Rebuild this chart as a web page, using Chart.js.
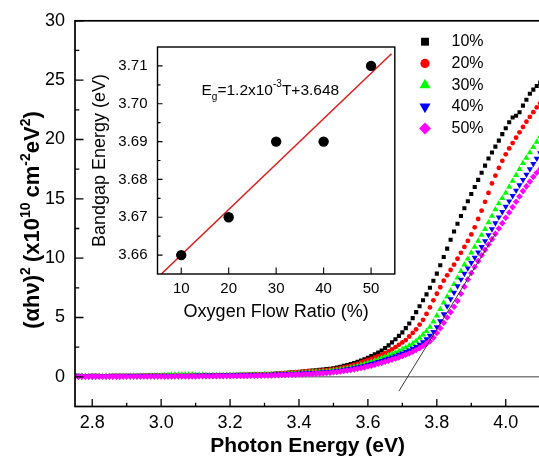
<!DOCTYPE html>
<html><head><meta charset="utf-8">
<script src="https://cdn.jsdelivr.net/npm/chart.js@4.4.0/dist/chart.umd.min.js"></script>
<style>
html,body{margin:0;padding:0;background:#fff;overflow:hidden;width:539px;height:459px;}
#main{position:absolute;left:0;top:0;}
#inset{position:absolute;left:85px;top:28px;}
</style></head><body>
<canvas id="main" width="560" height="459"></canvas>
<canvas id="inset" width="315" height="297"></canvas>
<script>
// ---------- main chart data ----------
const photonEnergy = [
 2.75,2.76,2.77,2.78,2.79,
 2.80,2.81,2.82,2.83,2.84,2.85,2.86,2.87,2.88,2.89,
 2.90,2.91,2.92,2.93,2.94,2.95,2.96,2.97,2.98,2.99,
 3.00,3.01,3.02,3.03,3.04,3.05,3.06,3.07,3.08,3.09,
 3.10,3.11,3.12,3.13,3.14,3.15,3.16,3.17,3.18,3.19,
 3.20,3.21,3.22,3.23,3.24,3.25,3.26,3.27,3.28,3.29,
 3.30,3.31,3.32,3.33,3.34,3.35,3.36,3.37,3.38,3.39,
 3.40,3.41,3.42,3.43,3.44,3.45,3.46,3.47,3.48,3.49,
 3.50,3.51,3.52,3.53,3.54,3.55,3.56,3.57,3.58,3.59,
 3.60,3.61,3.62,3.63,3.64,3.65,3.66,3.67,3.68,3.69,
 3.70,3.71,3.72,3.73,3.74,3.75,3.76,3.77,3.78,3.79,
 3.80,3.81,3.82,3.83,3.84,3.85,3.86,3.87,3.88,3.89,
 3.90,3.91,3.92,3.93,3.94,3.95,3.96,3.97,3.98,3.99,
 4.00,4.01,4.02,4.03,4.04,4.05,4.06,4.07,4.08,4.09,4.10
];
const series10 = [
 0.08,0.08,0.07,0.07,0.07,0.08,0.08,0.07,0.07,0.07,0.07,0.08,0.08,0.08,0.08,0.08,0.09,0.09,0.09,0.09,0.09,0.10,0.10,0.10,0.10,
 0.10,0.10,0.10,0.11,0.11,0.11,0.11,0.12,0.12,0.12,0.12,0.13,0.13,0.13,0.14,0.14,0.14,0.15,0.15,0.15,0.16,0.16,0.17,0.17,0.18,0.18,0.19,0.19,0.20,0.21,
 0.21,0.22,0.24,0.26,0.28,0.30,0.32,0.34,0.36,0.38,0.41,0.44,0.47,0.50,0.53,0.56,0.59,0.62,0.65,0.68,
 0.72,0.78,0.85,0.92,1.00,1.08,1.17,1.27,1.37,1.48,
 1.60,1.75,1.90,2.05,2.22,2.42,2.65,2.90,3.17,3.45,
 3.75,4.10,4.50,4.95,5.45,5.95,6.45,6.95,7.50,8.10,
 8.70,9.40,10.10,10.80,11.55,12.25,12.90,13.55,14.20,14.80,
 15.40,16.00,16.60,17.20,17.80,18.40,18.90,19.40,19.90,20.45,
 20.95,21.45,21.85,22.00,22.30,22.85,23.35,23.85,24.20,24.50,24.80
];
const series20 = [
 0.07,0.07,0.07,0.06,0.06,0.07,0.07,0.07,0.06,0.06,0.07,0.07,0.07,0.07,0.08,0.08,0.08,0.08,0.08,0.09,0.09,0.09,0.09,0.09,0.10,
 0.10,0.10,0.10,0.10,0.11,0.11,0.11,0.11,0.12,0.12,0.12,0.13,0.13,0.13,0.13,0.14,0.14,0.15,0.15,0.15,0.16,0.16,0.17,0.17,0.18,0.18,0.19,0.20,0.20,0.21,
 0.22,0.23,0.25,0.27,0.29,0.31,0.33,0.35,0.37,0.39,0.41,0.43,0.45,0.47,0.49,0.51,0.53,0.55,0.57,0.60,
 0.62,0.67,0.73,0.79,0.85,0.92,1.00,1.10,1.22,1.32,
 1.42,1.52,1.63,1.74,1.87,2.00,2.15,2.32,2.50,2.70,
 2.90,3.10,3.40,3.70,4.00,4.40,4.80,5.30,5.85,6.45,
 7.00,7.55,8.10,8.55,9.00,9.45,9.95,10.45,10.95,11.45,
 12.00,12.60,13.30,14.00,14.75,15.50,16.30,16.95,17.60,18.20,
 18.75,19.25,19.70,20.15,20.60,21.05,21.50,21.90,22.30,22.70,23.05
];
const series30 = [
 0.06,0.06,0.06,0.06,0.05,0.05,0.06,0.06,0.06,0.06,0.06,0.07,0.07,0.07,0.07,0.07,0.07,0.08,0.08,0.08,0.08,0.09,0.09,0.10,0.10,
 0.11,0.12,0.14,0.17,0.18,0.18,0.19,0.19,0.18,0.18,0.17,0.17,0.16,0.14,0.13,0.13,0.13,0.14,0.14,0.14,0.15,0.15,0.15,0.16,0.16,0.17,0.17,0.18,0.18,0.19,
 0.20,0.21,0.22,0.23,0.24,0.25,0.26,0.28,0.29,0.31,0.32,0.34,0.35,0.37,0.39,0.41,0.43,0.45,0.47,0.50,
 0.52,0.56,0.60,0.65,0.70,0.76,0.83,0.91,1.00,1.08,
 1.17,1.26,1.36,1.46,1.57,1.68,1.80,1.92,2.05,2.18,
 2.32,2.47,2.63,2.80,3.02,3.28,3.56,3.85,4.20,4.65,
 5.15,5.70,6.25,6.75,7.25,7.80,8.35,8.90,9.45,9.95,
 10.45,10.95,11.45,11.95,12.45,13.00,13.55,14.10,14.60,15.05,
 15.50,16.00,16.50,17.00,17.50,18.00,18.45,18.90,19.35,19.80,20.25
];
const series40 = [
 0.04,0.04,0.04,0.04,0.04,0.04,0.05,0.05,0.05,0.05,0.05,0.05,0.05,0.05,0.06,0.06,0.06,0.06,0.06,0.06,0.07,0.07,0.07,0.07,0.07,
 0.07,0.08,0.08,0.08,0.08,0.08,0.09,0.09,0.09,0.09,0.10,0.10,0.10,0.10,0.11,0.11,0.11,0.12,0.12,0.12,0.13,0.13,0.13,0.14,0.14,0.15,0.15,0.16,0.16,0.17,
 0.17,0.18,0.19,0.20,0.21,0.22,0.23,0.24,0.25,0.26,0.27,0.29,0.30,0.32,0.33,0.35,0.36,0.38,0.40,0.42,
 0.45,0.49,0.53,0.58,0.63,0.68,0.74,0.80,0.87,0.94,
 1.01,1.09,1.17,1.26,1.35,1.45,1.55,1.65,1.76,1.87,
 1.99,2.11,2.24,2.38,2.53,2.72,2.93,3.18,3.47,3.80,
 4.20,4.70,5.30,5.95,6.55,7.10,7.65,8.20,8.70,9.15,
 9.60,10.05,10.50,10.95,11.45,11.95,12.45,12.95,13.45,13.90,
 14.35,14.80,15.25,15.70,16.15,16.60,17.05,17.50,17.95,18.40,18.85
];
const series50 = [
 0.02,0.02,0.02,0.02,0.02,0.02,0.02,0.02,0.02,0.02,0.02,0.02,0.02,0.02,0.03,0.03,0.03,0.03,0.03,0.03,0.03,0.03,0.03,0.03,0.03,
 0.03,0.03,0.03,0.03,0.04,0.04,0.04,0.04,0.04,0.04,0.04,0.05,0.05,0.05,0.05,0.05,0.06,0.06,0.06,0.06,0.07,0.07,0.07,0.08,0.08,0.08,0.09,0.09,0.10,0.10,
 0.11,0.11,0.12,0.13,0.14,0.15,0.16,0.17,0.18,0.19,0.20,0.21,0.22,0.24,0.25,0.27,0.29,0.31,0.33,0.35,
 0.38,0.41,0.45,0.49,0.53,0.57,0.62,0.68,0.74,0.80,
 0.87,0.94,1.02,1.10,1.18,1.27,1.36,1.45,1.54,1.64,
 1.75,1.86,1.98,2.11,2.26,2.42,2.60,2.80,3.00,3.30,
 3.70,4.10,4.55,5.00,5.45,5.90,6.40,7.00,7.60,8.20,
 8.75,9.25,9.75,10.25,10.70,11.15,11.60,12.05,12.50,12.95,
 13.40,13.85,14.30,14.75,15.20,15.65,16.05,16.45,16.85,17.20,17.50
];
const seriesLabels = ['10%','20%','30%','40%','50%'];
const tangentX = [3.69, 3.97];
const tangentY = [-1.2, 12.05];
const baselineX = [2.75, 4.10];
const baselineY = [0, 0];
const xTickValues = [2.8,3.0,3.2,3.4,3.6,3.8,4.0];
const xTickLabels = ['2.8','3.0','3.2','3.4','3.6','3.8','4.0'];
const xMinorTicks = [2.9,3.1,3.3,3.5,3.7,3.9];
const yTickValues = [0,5,10,15,20,25,30];
const yTickLabels = ['0','5','10','15','20','25','30'];
const yMinorTicks = [2.5,7.5,12.5,17.5,22.5,27.5];

// ---------- inset data ----------
const oxygenRatio = [10,20,30,40,50];
const bandgapEnergy = [3.66,3.67,3.69,3.69,3.71];
const fitT = [5.8, 54.3];
const fitE = [3.655, 3.7132];
const insetXTicks = [10,20,30,40,50];
const insetXLabels = ['10','20','30','40','50'];
const insetYTicks = [3.66,3.67,3.68,3.69,3.70,3.71];
const insetYLabels = ['3.66','3.67','3.68','3.69','3.70','3.71'];
const insetYMinor = [3.665,3.675,3.685,3.695,3.705];

// ---------- styling ----------
const FONT = "'Liberation Sans', Arial, Helvetica, sans-serif";
Chart.defaults.font.family = FONT;
Chart.defaults.color = '#000';

const seriesStyles = [
  {ps:'rect', r:2.9, rot:0, c:'#000000', lr:5.6},
  {ps:'circle', r:2.4, rot:0, c:'#ff0000', lr:4.6},
  {ps:'triangle', r:3.6, rot:0, c:'#00ff00', lr:6.4},
  {ps:'triangle', r:3.6, rot:180, c:'#0000ff', lr:6.4},
  {ps:'rectRot', r:3.3, rot:0, c:'#ff00ff', lr:6.0}
];
const allSeries = [series10, series20, series30, series40, series50];

const pts = (xs, ys) => xs.map((x,i)=>({x:x, y:ys[i]}));

const datasets = [];
datasets.push({label:'zero', data:pts(baselineX, baselineY), showLine:true, borderColor:'#444', borderWidth:1, pointRadius:0, order:20});
allSeries.forEach((s,k)=>{
  const st = seriesStyles[k];
  datasets.push({label:seriesLabels[k], data:pts(photonEnergy, s), showLine:false,
    pointStyle:st.ps, pointRadius:st.r, pointRotation:st.rot, pointBackgroundColor:st.c,
    pointBorderWidth:0, pointBorderColor:st.c, pointHoverRadius:st.r, order:10-k});
});
datasets.push({label:'tangent', data:pts(tangentX, tangentY), showLine:true, borderColor:'#222', borderWidth:0.9, pointRadius:0, order:0});

function drawPt(ctx, style, r, rot, x, y, color){
  ctx.fillStyle = color;
  Chart.helpers.drawPoint(ctx, {pointStyle:style, radius:r, rotation:rot, borderWidth:0}, x, y);
}

function drawRich(ctx, segs, baseSize, x, y, bold){
  let cx = x;
  segs.forEach(s=>{
    const size = s.k ? s.size : baseSize;
    ctx.font = (bold?'bold ':'') + size + 'px ' + FONT;
    ctx.fillText(s.t, cx, y + (s.dy||0));
    cx += ctx.measureText(s.t).width + (s.gap||0);
  });
  return cx - x;
}
function measureRich(ctx, segs, baseSize, bold){
  let w = 0;
  segs.forEach(s=>{
    const size = s.k ? s.size : baseSize;
    ctx.font = (bold?'bold ':'') + size + 'px ' + FONT;
    w += ctx.measureText(s.t).width + (s.gap||0);
  });
  return w;
}

const mainDecor = {
  id:'mainDecor',
  afterDraw(chart){
    const {ctx, chartArea:a, scales:{x, y}} = chart;
    ctx.save();
    ctx.strokeStyle = '#000';
    ctx.lineWidth = 1.7;
    ctx.strokeRect(a.left, a.top, a.right - a.left, a.bottom - a.top);
    ctx.lineWidth = 1.3;
    ctx.beginPath();
    xTickValues.forEach(v=>{const p=x.getPixelForValue(v); ctx.moveTo(p,a.bottom); ctx.lineTo(p,a.bottom-7.5);});
    xMinorTicks.forEach(v=>{const p=x.getPixelForValue(v); ctx.moveTo(p,a.bottom); ctx.lineTo(p,a.bottom-3.8);});
    yTickValues.forEach(v=>{const p=y.getPixelForValue(v); ctx.moveTo(a.left,p); ctx.lineTo(a.left+8.5,p);});
    yMinorTicks.forEach(v=>{const p=y.getPixelForValue(v); ctx.moveTo(a.left,p); ctx.lineTo(a.left+4.3,p);});
    ctx.stroke();

    const segs = [
      {t:'(\u03b1h\u03bd)'},
      {t:'2', k:1, size:14, dy:-9, gap:5},
      {t:'(x10'},
      {t:'10', k:1, size:14, dy:-9, gap:5},
      {t:'cm'},
      {t:'-2', k:1, size:14, dy:-9},
      {t:'eV'},
      {t:'2', k:1, size:14, dy:-9},
      {t:')'}
    ];
    ctx.fillStyle = '#000';
    ctx.textBaseline = 'alphabetic';
    ctx.textAlign = 'left';
    ctx.translate(39, 220);
    ctx.rotate(-Math.PI/2);
    const w = measureRich(ctx, segs, 22, true);
    drawRich(ctx, segs, 22, -w/2, 0, true);
    ctx.restore();

    ctx.save();
    ctx.textBaseline = 'middle';
    ctx.textAlign = 'left';
    ctx.font = '16px ' + FONT;
    const rowY = [41.7, 63.4, 85.1, 106.8, 128.5];
    seriesStyles.forEach((st,k)=>{
      drawPt(ctx, st.ps, st.lr, st.rot, 425, rowY[k], st.c);
      ctx.fillStyle = '#000';
      ctx.fillText(seriesLabels[k], 451.5, rowY[k]);
    });
    ctx.restore();
  }
};

new Chart(document.getElementById('main'), {
  type:'scatter',
  data:{datasets:datasets},
  options:{
    responsive:false, animation:false, devicePixelRatio:1,
    layout:{padding:{left:0, right:19.8, top:20, bottom:0}},
    plugins:{legend:{display:false}, tooltip:{enabled:false}},
    events:[],
    scales:{
      x:{type:'linear', min:2.75, max:4.10,
        afterBuildTicks:(s)=>{ s.ticks = xTickValues.map(v=>({value:v})); },
        afterFit:(s)=>{ s.height = 52.5; },
        grid:{display:false, drawTicks:false}, border:{display:false},
        ticks:{autoSkip:false, maxRotation:0, padding:6, font:{size:18}, color:'#000', callback:(v,i)=>xTickLabels[i]},
        title:{display:true, text:'Photon Energy (eV)', font:{size:21, weight:'bold'}, color:'#000', padding:{top:0, bottom:0}}
      },
      y:{type:'linear', min:-2.5, max:30,
        afterBuildTicks:(s)=>{ s.ticks = yTickValues.map(v=>({value:v})); },
        afterFit:(s)=>{ s.width = 75; },
        grid:{display:false, drawTicks:false}, border:{display:false},
        ticks:{autoSkip:false, padding:10, font:{size:18}, color:'#000', callback:(v,i)=>yTickLabels[i]}
      }
    }
  },
  plugins:[mainDecor]
});

// ---------- inset ----------
const insetDecor = {
  id:'insetDecor',
  beforeDatasetsDraw(chart){
    const {ctx, chartArea:a} = chart;
    ctx.save();
    ctx.fillStyle = '#fff';
    ctx.fillRect(a.left, a.top, a.right-a.left, a.bottom-a.top);
    ctx.restore();
  },
  afterDraw(chart){
    const {ctx, chartArea:a, scales:{x, y}} = chart;
    ctx.save();
    ctx.strokeStyle = '#000';
    ctx.lineWidth = 1.4;
    ctx.strokeRect(a.left, a.top, a.right - a.left, a.bottom - a.top);
    ctx.lineWidth = 1.1;
    ctx.beginPath();
    insetXTicks.forEach(v=>{const p=x.getPixelForValue(v); ctx.moveTo(p,a.bottom); ctx.lineTo(p,a.bottom-6.5);});
    insetYTicks.forEach(v=>{const p=y.getPixelForValue(v); ctx.moveTo(a.left,p); ctx.lineTo(a.left+5,p);});
    insetYMinor.forEach(v=>{const p=y.getPixelForValue(v); ctx.moveTo(a.left,p); ctx.lineTo(a.left+3,p);});
    ctx.stroke();
    ctx.fillStyle = '#000';
    ctx.textBaseline = 'alphabetic';
    ctx.textAlign = 'left';
    const segs = [
      {t:'E'},
      {t:'g', k:1, size:10, dy:5},
      {t:'=1.2x10'},
      {t:'-3', k:1, size:10, dy:-8},
      {t:'T+3.648'}
    ];
    drawRich(ctx, segs, 15.5, 116.5, 66.5, false);
    ctx.restore();
  }
};

new Chart(document.getElementById('inset'), {
  type:'scatter',
  data:{datasets:[
    {label:'fit', data:pts(fitT, fitE), showLine:true, borderColor:'#dd1c1c', borderWidth:1.5, pointRadius:0, order:1},
    {label:'Bandgap', data:pts(oxygenRatio, bandgapEnergy), showLine:false, pointStyle:'circle', pointRadius:5.2, pointBackgroundColor:'#000', pointBorderWidth:0, order:0}
  ]},
  options:{
    responsive:false, animation:false, devicePixelRatio:1,
    layout:{padding:{left:0, right:3.3, top:5.3, bottom:0}},
    plugins:{legend:{display:false}, tooltip:{enabled:false}},
    events:[],
    scales:{
      x:{type:'linear', min:5, max:55,
        afterBuildTicks:(s)=>{ s.ticks = insetXTicks.map(v=>({value:v})); },
        afterFit:(s)=>{ s.height = 51; },
        grid:{display:false, drawTicks:false}, border:{display:false},
        ticks:{autoSkip:false, maxRotation:0, padding:5.5, font:{size:15}, color:'#000', callback:(v,i)=>insetXLabels[i]},
        title:{display:true, text:'Oxygen Flow Ratio (%)', font:{size:18}, color:'#000', padding:{top:0, bottom:2.5}}
      },
      y:{type:'linear', min:3.655, max:3.715,
        afterBuildTicks:(s)=>{ s.ticks = insetYTicks.map(v=>({value:v})); },
        afterFit:(s)=>{ s.width = 72.5; },
        grid:{display:false, drawTicks:false}, border:{display:false},
        ticks:{autoSkip:false, padding:10, font:{size:15}, color:'#000', callback:(v,i)=>insetYLabels[i]},
        title:{display:true, text:'Bandgap Energy (eV)', font:{size:18}, color:'#000', padding:{top:4, bottom:0}}
      }
    }
  },
  plugins:[insetDecor]
});
</script>
</body></html>
